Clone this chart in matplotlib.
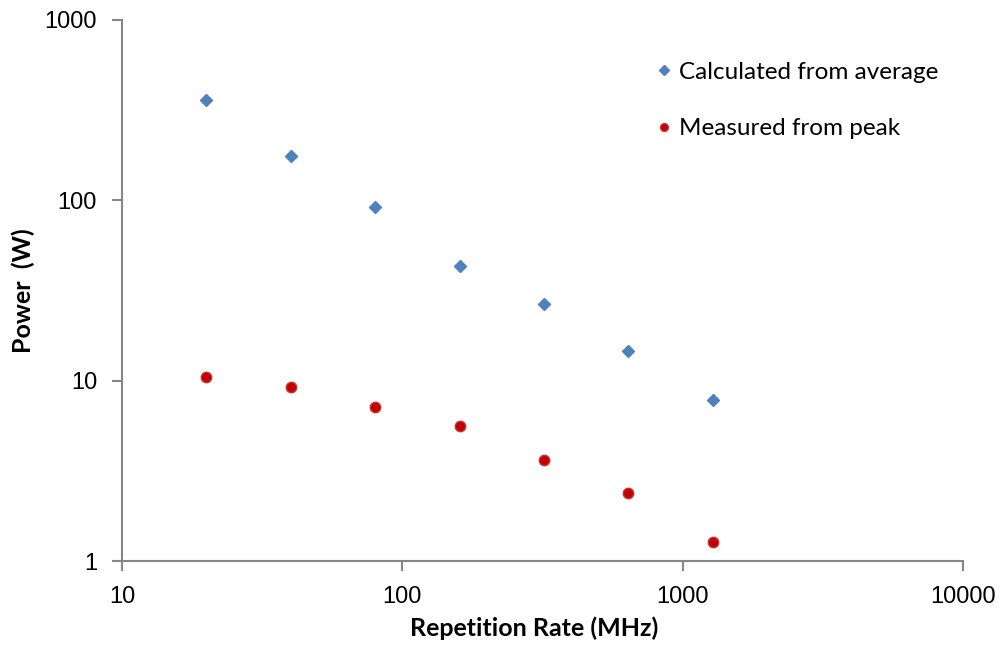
import numpy as np
import matplotlib.pyplot as plt
from matplotlib.ticker import FixedLocator, FixedFormatter, NullLocator

rep_rate = [20, 40, 80, 160, 320, 640, 1280]
calc_avg = [360, 176, 92, 43.3, 26.6, 14.6, 7.8]
meas_peak = [10.5, 9.2, 7.15, 5.6, 3.63, 2.38, 1.27]

x_ticks = [10, 100, 1000, 10000]
y_ticks = [1, 10, 100, 1000]

fig = plt.figure(figsize=(10.02, 6.55), dpi=100)
ax = fig.add_axes([0.1218, 0.1435, 0.8393, 0.826])

ax.plot(rep_rate, calc_avg, linestyle="none", marker="D", ms=6.5,
        color="#4F81BD", mec="#4F81BD", label="Calculated from average")
ax.plot(rep_rate, meas_peak, linestyle="none", marker="o", ms=7.5,
        color="#C00000", mec="#D03030", mew=1.0, label="Measured from peak")

ax.set_xscale("log")
ax.set_yscale("log")
ax.set_xlim(10, 10000)
ax.set_ylim(1, 1000)

ax.xaxis.set_major_locator(FixedLocator(x_ticks))
ax.xaxis.set_major_formatter(FixedFormatter([str(v) for v in x_ticks]))
ax.yaxis.set_major_locator(FixedLocator(y_ticks))
ax.yaxis.set_major_formatter(FixedFormatter([str(v) for v in y_ticks]))
ax.xaxis.set_minor_locator(NullLocator())
ax.yaxis.set_minor_locator(NullLocator())

for side in ["top", "right"]:
    ax.spines[side].set_visible(False)
for side in ["left", "bottom"]:
    ax.spines[side].set_color("#868686")
    ax.spines[side].set_linewidth(1.5)

ax.tick_params(axis="both", which="major", direction="out", length=7,
               width=1.5, color="#868686", labelsize=17, pad=11)
for lab in ax.get_xticklabels() + ax.get_yticklabels():
    lab.set_fontfamily("Liberation Sans")

ax.set_xlabel("Repetition Rate (MHz)", fontsize=18, fontweight="bold",
              family="Lato", va="center")
ax.set_ylabel("Power  (W)", fontsize=18, fontweight="bold",
              family="Lato", va="center")
ax.xaxis.set_label_coords(0.49, -0.124)
ax.yaxis.set_label_coords(-0.118, 0.5)

ax.legend(loc="upper left", bbox_to_anchor=(0.629, 0.939),
          bbox_transform=fig.transFigure, frameon=False,
          prop={"family": "Lato", "size": 17.5},
          handletextpad=0.1, labelspacing=1.45, handlelength=1.0,
          markerscale=0.75)

fig.savefig("out.png", dpi=100)
